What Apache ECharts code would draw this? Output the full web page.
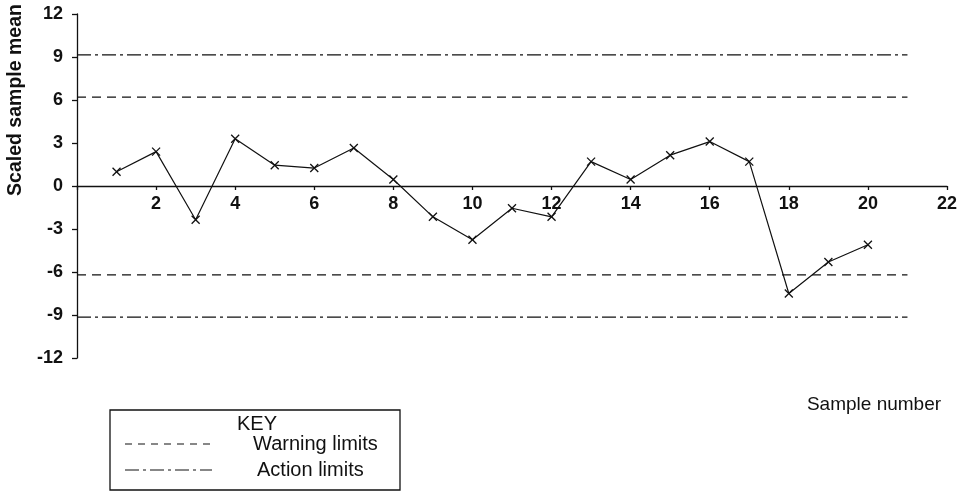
<!DOCTYPE html>
<html>
<head>
<meta charset="utf-8">
<script src="https://cdn.jsdelivr.net/npm/echarts@6/dist/echarts.min.js"></script>
<style>
  html, body { margin: 0; padding: 0; background: #fff; }
  #chart { width: 967px; height: 492px; }
</style>
</head>
<body>
<div id="chart"></div>
<script>
// Control chart of scaled sample means
const sampleNumbers = [1, 2, 3, 4, 5, 6, 7, 8, 9, 10, 11, 12, 13, 14, 15, 16, 17, 18, 19, 20];
const scaledMeans = [1.0, 2.4, -2.35, 3.3, 1.45, 1.25, 2.65, 0.45, -2.15, -3.75, -1.55, -2.15, 1.7, 0.45, 2.15, 3.1, 1.7, -7.5, -5.3, -4.1];
const warningLimit = 6.2;
const actionLimit = 9.15;
const limitSpan = [0, 21];
const yTicks = [-12, -9, -6, -3, 0, 3, 6, 9, 12];
const xTicks = [2, 4, 6, 8, 10, 12, 14, 16, 18, 20, 22];

const FONT = '"Liberation Sans", Arial, sans-serif';
const GRID = { left: 77, right: 20, top: 14, bottom: 134 };
const chart = echarts.init(document.getElementById('chart'));

// vertical pixel distance from the bottom of the grid to the y = 0 line
const plotH = 492 - GRID.top - GRID.bottom;
const zeroLift = plotH * (0 - yTicks[0]) / (yTicks[yTicks.length - 1] - yTicks[0]);

const limitLine = (v, type) => ({
  type: 'line',
  data: limitSpan.map(x => [x, v]),
  symbol: 'none',
  silent: true,
  lineStyle: { color: '#111', width: 1.3, type: type },
  z: 1
});

const warnDash = [9, 6];
const actionDash = [14, 4, 3, 4];

chart.setOption({
  animation: false,
  backgroundColor: '#fff',
  grid: Object.assign({ containLabel: false }, GRID),
  xAxis: {
    type: 'value', min: 0, max: 22, interval: 2,
    offset: -zeroLift,
    axisLine: { onZero: false, lineStyle: { color: '#111', width: 1.3 } },
    axisTick: { show: true, length: 4, lineStyle: { color: '#111', width: 1.3 } },
    splitLine: { show: false },
    axisLabel: {
      color: '#111', fontFamily: FONT, fontSize: 18, fontWeight: 'bold', margin: 9,
      formatter: v => (xTicks.indexOf(v) >= 0 ? String(v) : '')
    }
  },
  yAxis: {
    type: 'value', min: yTicks[0], max: yTicks[yTicks.length - 1], interval: 3,
    axisLine: { show: true, onZero: false, lineStyle: { color: '#111', width: 1.3 } },
    axisTick: { show: true, length: 5, lineStyle: { color: '#111', width: 1.3 } },
    splitLine: { show: false },
    axisLabel: { color: '#111', fontFamily: FONT, fontSize: 18, fontWeight: 'bold', margin: 14 }
  },
  series: [
    limitLine(actionLimit, actionDash),
    limitLine(warningLimit, warnDash),
    limitLine(-warningLimit, warnDash),
    limitLine(-actionLimit, actionDash),
    {
      type: 'line',
      data: sampleNumbers.map((n, i) => [n, scaledMeans[i]]),
      symbol: 'path://M0,0L10,10M10,0L0,10',
      symbolSize: 8,
      showSymbol: true,
      lineStyle: { color: '#111', width: 1.2 },
      itemStyle: { color: '#111', borderColor: '#111', borderWidth: 1.3 },
      z: 3
    }
  ],
  graphic: [
    {
      type: 'text', x: 16, y: 100, rotation: Math.PI / 2,
      style: { text: 'Scaled sample mean', fill: '#111', font: 'bold 19.5px ' + FONT, align: 'center', verticalAlign: 'middle' }
    },
    {
      type: 'text', x: 874, y: 405,
      style: { text: 'Sample number', fill: '#111', font: '19px ' + FONT, align: 'center', verticalAlign: 'middle' }
    },
    {
      type: 'rect', shape: { x: 110, y: 410, width: 290, height: 80 },
      style: { fill: 'none', stroke: '#111', lineWidth: 1.3 }
    },
    {
      type: 'text', x: 257, y: 424,
      style: { text: 'KEY', fill: '#111', font: '20px ' + FONT, align: 'center', verticalAlign: 'middle' }
    },
    {
      type: 'line', shape: { x1: 125, y1: 444, x2: 212, y2: 444 },
      style: { stroke: '#111', lineWidth: 1.2, lineDash: [7, 6] }
    },
    {
      type: 'line', shape: { x1: 125, y1: 470, x2: 212, y2: 470 },
      style: { stroke: '#111', lineWidth: 1.2, lineDash: [14, 4, 3, 4] }
    },
    {
      type: 'text', x: 253, y: 444,
      style: { text: 'Warning limits', fill: '#111', font: '20px ' + FONT, align: 'left', verticalAlign: 'middle' }
    },
    {
      type: 'text', x: 257, y: 470,
      style: { text: 'Action limits', fill: '#111', font: '20px ' + FONT, align: 'left', verticalAlign: 'middle' }
    }
  ]
});
</script>
</body>
</html>
